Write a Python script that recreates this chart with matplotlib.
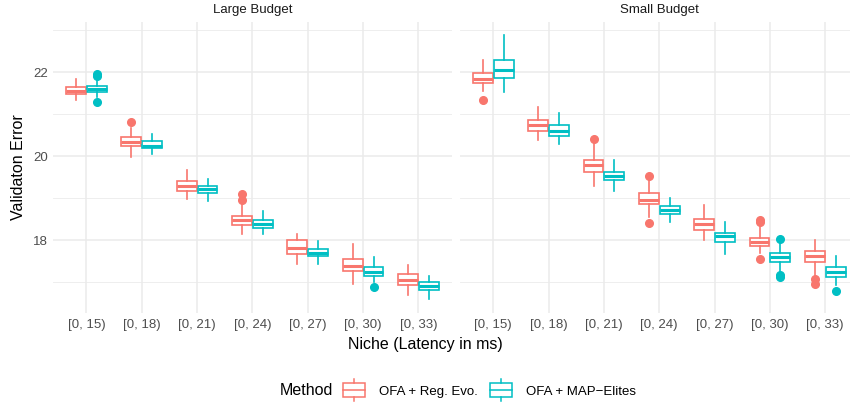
import matplotlib
matplotlib.use("Agg")
import matplotlib.pyplot as plt
from matplotlib.legend_handler import HandlerBase
from matplotlib.lines import Line2D
from matplotlib.patches import Rectangle

plt.rcParams["font.family"] = ["Liberation Sans", "DejaVu Sans"]

niches = ["[0, 15)", "[0, 18)", "[0, 21)", "[0, 24)", "[0, 27)", "[0, 30)", "[0, 33)"]
panels = ["Large Budget", "Small Budget"]
methods = ["OFA + Reg. Evo.", "OFA + MAP\u2212Elites"]
colors = ["#F8766D", "#00BFC4"]

# box statistics: (whisker low, q1, median, q3, whisker high)
large_reg = [
    (21.34, 21.48, 21.56, 21.64, 21.83),
    (19.99, 20.23, 20.33, 20.45, 20.67),
    (18.98, 19.18, 19.29, 19.40, 19.67),
    (18.14, 18.36, 18.48, 18.58, 18.84),
    (17.44, 17.67, 17.81, 17.99, 18.14),
    (16.96, 17.27, 17.39, 17.55, 17.90),
    (16.70, 16.94, 17.05, 17.18, 17.40),
]
large_reg_out = [[], [20.81], [], [19.09, 18.96], [], [], []]

large_map = [
    (21.42, 21.53, 21.61, 21.67, 21.82),
    (20.05, 20.20, 20.25, 20.35, 20.52),
    (18.92, 19.12, 19.21, 19.28, 19.46),
    (18.14, 18.29, 18.39, 18.48, 18.70),
    (17.44, 17.61, 17.69, 17.79, 17.98),
    (16.99, 17.15, 17.25, 17.36, 17.59),
    (16.60, 16.80, 16.91, 16.99, 17.15),
]
large_map_out = [[21.92, 21.95, 21.30], [], [], [], [], [16.87], []]

small_reg = [
    (21.56, 21.74, 21.84, 21.98, 22.29),
    (20.39, 20.61, 20.74, 20.86, 21.17),
    (19.29, 19.62, 19.80, 19.91, 20.29),
    (18.56, 18.86, 18.96, 19.12, 19.44),
    (17.99, 18.25, 18.39, 18.51, 18.84),
    (17.69, 17.85, 17.95, 18.05, 18.32),
    (17.17, 17.48, 17.61, 17.75, 18.01),
]
small_reg_out = [[21.34], [], [20.41], [19.53, 18.40], [], [18.48, 18.42, 17.55], [17.07, 16.96]]

small_map = [
    (21.52, 21.85, 22.05, 22.29, 22.89),
    (20.29, 20.49, 20.61, 20.73, 21.02),
    (19.17, 19.44, 19.53, 19.63, 19.91),
    (18.42, 18.63, 18.72, 18.82, 19.00),
    (17.67, 17.96, 18.09, 18.18, 18.42),
    (17.25, 17.48, 17.60, 17.70, 17.93),
    (16.94, 17.13, 17.25, 17.35, 17.63),
]
small_map_out = [[], [], [], [], [], [18.03, 17.17, 17.12], [16.79]]

data = {
    "Large Budget": [(large_reg, large_reg_out), (large_map, large_map_out)],
    "Small Budget": [(small_reg, small_reg_out), (small_map, small_map_out)],
}


class BoxKeyHandler(HandlerBase):
    # little boxplot glyph for the legend keys
    def create_artists(self, legend, orig_handle, xdescent, ydescent,
                       width, height, fontsize, trans):
        c = orig_handle.get_color()
        cx = width / 2 - xdescent
        cy = height / 2 - ydescent
        bw = width * 0.95
        bh = height * 1.05
        y0 = cy - bh / 2
        box = Rectangle((cx - bw / 2, y0), bw, bh, facecolor="white",
                        edgecolor=c, lw=1.1, transform=trans)
        med = Line2D([cx - bw / 2, cx + bw / 2], [cy, cy], color=c, lw=1.1, transform=trans)
        w1 = Line2D([cx, cx], [y0 + bh, y0 + bh + height * 0.3], color=c, lw=1.1, transform=trans)
        w2 = Line2D([cx, cx], [y0, y0 - height * 0.3], color=c, lw=1.1, transform=trans)
        return [box, med, w1, w2]


fig = plt.figure(figsize=(8.5, 4.04), dpi=100)
ax_left = fig.add_axes([0.0627, 0.225, 0.4687, 0.721])
ax_right = fig.add_axes([0.5412, 0.225, 0.4687, 0.721])

xs = list(range(1, len(niches) + 1))
offsets = [-0.1875, 0.1875]

for ax, panel in zip([ax_left, ax_right], panels):
    for k, (stats, outs) in enumerate(data[panel]):
        bstats = []
        for (lo, q1, med, q3, hi), fl in zip(stats, outs):
            bstats.append({"whislo": lo, "q1": q1, "med": med, "q3": q3,
                           "whishi": hi, "fliers": fl})
        c = colors[k]
        ax.bxp(bstats, positions=[x + offsets[k] for x in xs], widths=0.36,
               patch_artist=True, showcaps=False, manage_ticks=False,
               boxprops=dict(facecolor="white", edgecolor=c, lw=1.2),
               medianprops=dict(color=c, lw=2.2),
               whiskerprops=dict(color=c, lw=1.2),
               flierprops=dict(marker="o", markerfacecolor=c, markeredgecolor=c,
                               markersize=5.5))
    ax.set_xlim(0.4, 7.6)
    ax.set_ylim(16.26, 23.2)
    ax.set_xticks(xs)
    ax.set_xticklabels(niches)
    ax.set_yticks([18, 20, 22])
    ax.set_yticks([17, 19, 21, 23], minor=True)
    ax.grid(True, which="major", color="#EBEBEB", lw=1.1, zorder=0)
    ax.grid(True, which="minor", axis="y", color="#EBEBEB", lw=0.6, zorder=0)
    ax.set_axisbelow(True)
    for s in ax.spines.values():
        s.set_visible(False)
    ax.tick_params(which="both", length=0, labelsize=9.5, labelcolor="#4D4D4D", pad=4)
    ax.set_title(panel, fontsize=9.5, color="#1A1A1A", pad=6)

ax_right.tick_params(axis="y", labelleft=False)
ax_left.set_ylabel("Validaton Error", fontsize=11.5, labelpad=5)
fig.text(0.5, 0.148, "Niche (Latency in ms)", ha="center", va="center", fontsize=11.5)

# legend at the bottom, title on the left like ggplot
fig.text(0.392, 0.033, "Method", ha="right", va="center", fontsize=11.5)
handles = [Line2D([], [], color=c) for c in colors]
fig.legend(handles, methods, handler_map={Line2D: BoxKeyHandler()},
           loc="center left", bbox_to_anchor=(0.403, 0.033), ncol=2, frameon=False,
           fontsize=9.5, handlelength=1.75, handleheight=1.2, columnspacing=0.9,
           handletextpad=1.0, borderpad=0, borderaxespad=0)

fig.savefig("out.png", dpi=100, facecolor="white")
